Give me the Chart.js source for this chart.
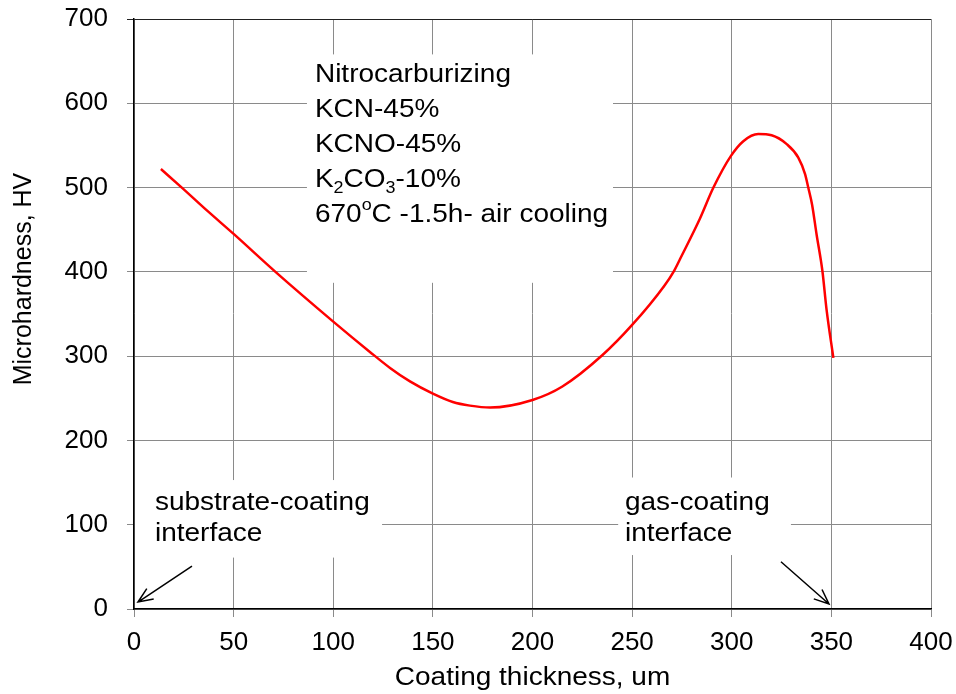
<!DOCTYPE html>
<html>
<head>
<meta charset="utf-8">
<script src="https://cdn.jsdelivr.net/npm/chart.js@4.4.1/dist/chart.umd.min.js"></script>
<style>
html,body{margin:0;padding:0;background:#fff}
#wrap{width:956px;height:694px}
</style>
</head>
<body>
<div id="wrap"><canvas id="chart" width="956" height="694"></canvas></div>
<script>
// values
const thickness=[13.5,24,37,50,71,100,118.4,128.5,138.5,150,160,168.6,178.7,200,215,235,250,266,271,274,284,290.8,299.6,305.8,313.3,320,327.6,333.4,336.8,338.4,340.3,342.6,345.5,347.6,351];
const hardness=[522,500,472,445,400,341,305,286,270,255.5,245.6,241.3,239,248,264,301,337,383,401,415,463,500,537.6,555,563.5,562,551.5,535.6,516,500,480,444,401,355,298];
const xTicks=[0,50,100,150,200,250,300,350,400];
const yTicks=[0,100,200,300,400,500,600,700];
const xTitle="Coating thickness, um";
const yTitle="Microhardness, HV";
const recipeLines=[
  [["Nitrocarburizing"]],
  [["KCN-45%"]],
  [["KCNO-45%"]],
  [["K"],["2","sub"],["CO"],["3","sub"],["-10%"]],
  [["670"],["o","sup"],["C -1.5h- air cooling"]]
];
const substrateLines=[[["substrate-coating"]],[["interface"]]];
const gasLines=[[["gas-coating"]],[["interface"]]];

// annotation placement (data units)
const notes=[
  {box:[86.8,240.4,387,658],at:[90.8,625],lines:recipeLines,lh:35},
  {box:[0.5,124.5,61,153],at:[10.5,117],lines:substrateLines,lh:31},
  {box:[243,329.7,64,156],at:[246.4,117],lines:gasLines,lh:31}
];
const arrows=[
  {from:[29.1,51],to:[2,8.3]},
  {from:[324.7,56],to:[348.8,6]}
];

const FONT="'Liberation Sans', Arial, sans-serif";
const STRETCH=1.12;

function drawLine(ctx,segs,px,py){
  ctx.save();
  ctx.translate(px,py);
  ctx.scale(STRETCH,1);
  let cx=0;
  segs.forEach(([t,k])=>{
    ctx.font=(k?"16px ":"25px ")+FONT;
    const dy=k==="sub"?6:k==="sup"?-12:0;
    ctx.fillText(t,cx,dy);
    cx+=ctx.measureText(t).width;
  });
  ctx.restore();
}

const annotate={
  id:"annotate",
  beforeDatasetsDraw(c){
    const {ctx,scales:{x,y}}=c;
    ctx.save();
    notes.forEach(n=>{
      const l=x.getPixelForValue(n.box[0]),r=x.getPixelForValue(n.box[1]);
      const b=y.getPixelForValue(n.box[2]),t=y.getPixelForValue(n.box[3]);
      ctx.fillStyle="#fff";
      ctx.fillRect(l,t,r-l,b-t);
    });
    ctx.fillStyle="#000";
    ctx.textBaseline="alphabetic";
    ctx.textAlign="left";
    notes.forEach(n=>{
      const px=x.getPixelForValue(n.at[0]),py=y.getPixelForValue(n.at[1]);
      n.lines.forEach((segs,i)=>drawLine(ctx,segs,px,py+i*n.lh));
    });
    ctx.strokeStyle="#000";
    ctx.lineWidth=1.5;
    arrows.forEach(a=>{
      const x0=x.getPixelForValue(a.from[0]),y0=y.getPixelForValue(a.from[1]);
      const x1=x.getPixelForValue(a.to[0]),y1=y.getPixelForValue(a.to[1]);
      const ang=Math.atan2(y1-y0,x1-x0),len=16,spread=0.4;
      ctx.beginPath();
      ctx.moveTo(x0,y0);ctx.lineTo(x1,y1);
      ctx.moveTo(x1-len*Math.cos(ang-spread),y1-len*Math.sin(ang-spread));
      ctx.lineTo(x1,y1);
      ctx.lineTo(x1-len*Math.cos(ang+spread),y1-len*Math.sin(ang+spread));
      ctx.stroke();
    });
    ctx.restore();
  },
  afterDraw(c){
    const {ctx,chartArea:a}=c;
    ctx.save();
    ctx.fillStyle="#000";
    ctx.textAlign="center";
    ctx.textBaseline="middle";
    ctx.save();
    ctx.translate((a.left+a.right)/2,678);
    ctx.scale(STRETCH,1);
    ctx.font="25px "+FONT;
    ctx.fillText(xTitle,0,0);
    ctx.restore();
    ctx.translate(24,279);
    ctx.rotate(-Math.PI/2);
    ctx.font="25px "+FONT;
    ctx.fillText(yTitle,0,0);
    ctx.restore();
  }
};

const gridColor="#8a8a8a";
new Chart(document.getElementById("chart"),{
  type:"scatter",
  data:{datasets:[{
    data:thickness.map((t,i)=>({x:t,y:hardness[i]})),
    showLine:true,
    borderColor:"#ff0000",
    borderWidth:2.5,
    pointRadius:0,
    cubicInterpolationMode:"monotone",
    fill:false
  }]},
  options:{
    responsive:false,
    animation:false,
    layout:{padding:{left:0,right:25,top:19,bottom:0}},
    plugins:{legend:{display:false},tooltip:{enabled:false}},
    scales:{
      x:{
        type:"linear",min:0,max:400,
        afterBuildTicks:s=>{s.ticks=xTicks.map(v=>({value:v}));},
        afterFit:s=>{s.height=85;s.paddingLeft=0;s.paddingRight=0;},
        grid:{color:gridColor,tickLength:8,lineWidth:1},
        border:{color:"#000",width:1.5},
        ticks:{color:"#000",font:{family:FONT,size:26},padding:10,maxRotation:0}
      },
      y:{
        type:"linear",min:0,max:700,
        afterBuildTicks:s=>{s.ticks=yTicks.map(v=>({value:v}));},
        afterFit:s=>{s.width=134;s.paddingTop=0;s.paddingBottom=0;},
        grid:{color:ctx=>ctx.tick&&ctx.tick.value===700?"#222":gridColor,tickLength:7,lineWidth:1},
        border:{color:"#000",width:1.5},
        ticks:{color:"#000",font:{family:FONT,size:26},padding:19}
      }
    }
  },
  plugins:[annotate]
});
</script>
</body>
</html>
